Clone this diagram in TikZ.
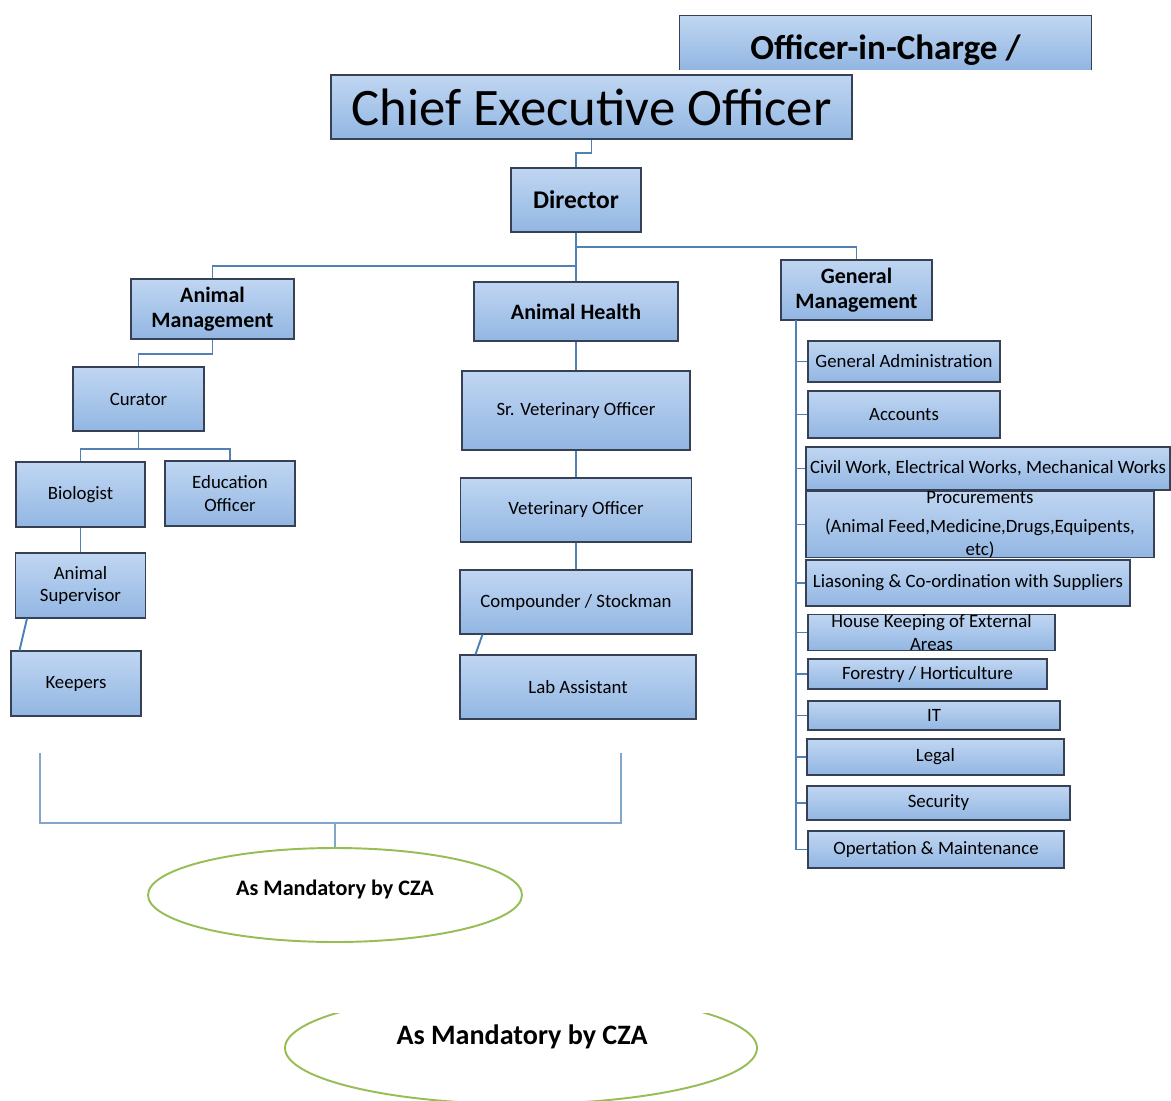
\documentclass[tikz,border=0pt]{standalone}
\usepackage{fontspec}
\setmainfont{Carlito}
\usetikzlibrary{shapes.geometric}
\definecolor{boxtop}{RGB}{192,214,242}
\definecolor{boxbot}{RGB}{146,182,226}
\definecolor{boxline}{RGB}{55,65,85}
\definecolor{linkblue}{RGB}{80,128,180}
\definecolor{czagreen}{RGB}{150,190,85}
\tikzset{
    org-box/.style = {draw=boxline, line width=0.6pt, top color=boxtop, bottom color=boxbot, rectangle, inner sep=0pt, align=center, font=\fontsize{10.7}{12.7}\selectfont},
    bx/.style 2 args = {minimum width=#1*0.02cm, minimum height=#2*0.02cm},
    head-text/.style = {font=\fontsize{12.5}{14}\selectfont\bfseries},
    link/.style = {draw=linkblue, line width=1.1pt},
    thin-link/.style = {draw=linkblue!70, line width=0.6pt},
    cza-ellipse/.style = {ellipse, draw=czagreen, line width=1.1pt, fill=white, inner sep=0pt},
}
\begin{document}
\begin{tikzpicture}[x=0.02cm, y=-0.02cm]
\useasboundingbox (0,0) rectangle (1171,1100);

% top of the chart
\node[org-box, draw=none, bx={411}{53}, text height=23.5pt, text depth=4.5pt, font=\fontsize{20}{22}\selectfont\bfseries] (oic) at (885.5,42.5) {Officer-in-Charge /};
\draw[boxline, line width=0.6pt] (oic.south west) |- (oic.north east) -- (oic.south east);
\node[org-box, bx={521}{64}, font=\fontsize{30}{33}\selectfont] (ceo) at (591.5,107) {Chief Executive Officer};
\node[org-box, bx={130}{64}, font=\fontsize{14.5}{16}\selectfont\bfseries] (dir) at (576,200) {Director};

% three wings
\node[org-box, bx={163}{60}, head-text] (am) at (212.5,309) {Animal\\Management};
\node[org-box, bx={204}{59}, head-text] (ah) at (576,311.5) {Animal Health};
\node[org-box, bx={151}{60}, head-text] (gm) at (856.5,290) {General\\Management};

\draw[link] (ceo.south) -- ++(0,13) -| (dir.north);
\draw[link] (dir.south) -- ++(0,14) -| (gm.north);
\draw[link] (dir.south) -- ++(0,33) -| (am.north);
\draw[link] (dir.south) -- (ah.north);

% animal management
\node[org-box, bx={131}{64}] (cur) at (138.5,399) {Curator};
\node[org-box, bx={129}{65}] (bio) at (80.5,494.5) {Biologist};
\node[org-box, bx={130}{65}] (edu) at (230,493.5) {Education\\Officer};
\node[org-box, bx={130}{65}] (asup) at (80.5,585.5) {Animal\\Supervisor};
\node[org-box, bx={130}{65}] (keep) at (76,683.5) {Keepers};

\draw[link] (am.south) -- ++(0,14) -| (cur.north);
\draw[link] (cur.south) -- ++(0,17) -| (bio.north);
\draw[link] (cur.south) -- ++(0,17) -| (edu.north);
\draw[link] (bio.south) -- (asup.north);
\draw[link] ([xshift=0.24cm]asup.south west) -- ([xshift=0.18cm]keep.north west);

% animal health
\node[org-box, bx={228}{79}] (svo) at (576,410.5) {Sr. Veterinary Officer};
\node[org-box, bx={231}{64}] (vo) at (576,510) {Veterinary Officer};
\node[org-box, bx={232}{64}] (cmp) at (576,602) {Compounder / Stockman};
\node[org-box, bx={236}{64}] (lab) at (578,687) {Lab Assistant};

\draw[link] (ah.south) -- (svo.north);
\draw[link] (svo.south) -- (vo.north);
\draw[link] (vo.south) -- (cmp.north);
\draw[link] ([xshift=0.46cm]cmp.south west) -- ([xshift=0.32cm]lab.north west);

% general management
\node[org-box, bx={192}{41}] (ga) at (904,361.5) {General Administration};
\node[org-box, bx={192}{47}] (acc) at (904,414.5) {Accounts};
\node[org-box, bx={364}{43}] (civ) at (988,468.5) {Civil Work, Electrical Works, Mechanical Works};
\node[org-box, bx={348}{51}] (proc) at (980,524.5) {Procurements\\[4pt](Animal Feed,Medicine,Drugs,Equipents,\\etc)};
\node[org-box, bx={324}{46}] (lia) at (968,583) {Liasoning \& Co-ordination with Suppliers};
\node[org-box, bx={247}{33}] (hk) at (931.5,632.5) {House Keeping of External\\Areas};
\node[org-box, bx={239}{30}] (fh) at (927.5,674) {Forestry / Horticulture};
\node[org-box, bx={252}{29}] (it) at (934,715.5) {IT};
\node[org-box, bx={257}{36}] (legal) at (935.5,757) {Legal};
\node[org-box, bx={263}{34}] (sec) at (938.5,803) {Security};
\node[org-box, bx={256}{37}] (om) at (936,849.5) {Opertation \& Maintenance};

\coordinate (spine) at (796,320);
\draw[link] (spine) |- (om.west);
\foreach \n in {ga,acc,civ,proc,lia,hk,fh,it,legal,sec}
    \draw[link] (\n.west) -- (\n.west -| spine);

% mandatory staff
\coordinate (brL) at (40,753);
\coordinate (brR) at (621,753);
\coordinate (brMid) at (335,823);
\draw[thin-link] (brL) -- ++(0,70) -| (brR);
\node[cza-ellipse, bx={374}{94}, text depth=8.6pt, font=\fontsize{12.6}{14}\selectfont\bfseries] (czaA) at (335,895) {As Mandatory by CZA};
\draw[thin-link] (brMid) -- (czaA.north);

\begin{scope}
\clip (0,1013) rectangle (1171,1100);
\node[cza-ellipse, bx={472}{112}] (czaB) at (521,1048) {};
\end{scope}
\node[font=\fontsize{16}{18}\selectfont\bfseries] (czaBtext) at (522,1037) {As Mandatory by CZA};
\end{tikzpicture}
\end{document}
